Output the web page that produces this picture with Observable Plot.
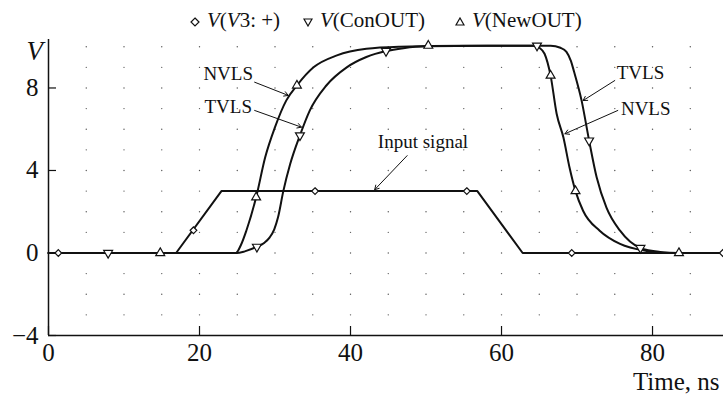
<!DOCTYPE html>
<html><head><meta charset="utf-8">
<script src="https://cdn.jsdelivr.net/npm/d3@7"></script>
<script src="https://cdn.jsdelivr.net/npm/@observablehq/plot@0.6"></script>
<style>
body{margin:0;background:#fff;}
#wrap{position:relative;width:723px;height:405px;font-family:"Liberation Serif","Times New Roman",serif;}
.leg{position:absolute;top:8px;font-size:21px;line-height:24px;color:#111;white-space:nowrap;}
.leg svg{vertical-align:0px;margin-right:7px;}
</style></head><body><div id="wrap"></div>
<script>
// Input signal V(V3:+)
const inputT = [0, 16.9, 22.9, 56.8, 62.8, 89.4];
const inputV = [0, 0, 3, 3, 0, 0];
// V(ConOUT) — TVLS
const conT = [0, 24.9, 26.0, 27.6, 28.6, 29.3, 29.9, 30.4, 31.1, 32.0, 33.3, 34.6, 36.8, 39.5, 42.1, 44.7, 47.0, 50.0, 60.0, 66.5, 67.8, 68.6, 69.2, 69.6, 70.6, 71.6, 72.6, 73.9, 75.7, 78.4, 81.0, 83.5, 89.4];
const conV = [0, 0, 0.08, 0.3, 0.5, 0.76, 1.15, 1.73, 3.0, 4.3, 5.7, 6.9, 8.12, 9.0, 9.5, 9.79, 9.93, 10.02, 10.05, 10.05, 9.95, 9.75, 9.3, 8.8, 7.4, 5.45, 3.67, 2.2, 1.08, 0.24, 0.05, 0, 0];
// V(NewOUT) — NVLS
const newT = [0, 24.8, 25.5, 26.2, 27.5, 28.7, 30.0, 31.5, 32.9, 35.1, 38.2, 42.1, 46.5, 55.0, 64.5, 65.0, 65.7, 66.5, 67.3, 68.2, 69.0, 69.8, 70.8, 73.0, 75.7, 79.2, 82.0, 89.4];
const newV = [0, 0, 0.4, 1.08, 2.7, 4.64, 6.1, 7.4, 8.12, 9.0, 9.58, 9.9, 10.0, 10.05, 10.05, 9.95, 9.66, 8.6, 6.75, 5.6, 4.16, 3.0, 2.05, 1.08, 0.44, 0.1, 0, 0];
// Marker positions
const inMarkT = [1.3, 19.2, 35.3, 55.4, 69.3, 89.3];
const inMarkV = [0, 1.1, 3, 3, 0, 0];
const conMarkT = [7.9, 27.6, 33.3, 44.7, 64.7, 71.6, 78.4];
const conMarkV = [0, 0.3, 5.7, 9.79, 10.05, 5.45, 0.24];
const newMarkT = [14.8, 27.5, 32.9, 50.3, 66.5, 69.8, 83.5];
const newMarkV = [0, 2.7, 8.12, 10.05, 8.6, 3.0, 0];
// Annotations
const noteText = ["NVLS", "TVLS", "Input signal", "TVLS", "NVLS"];
const noteX = [23.8, 23.8, 49.6, 78.4, 79.1];
const noteY = [8.68, 7.08, 5.4, 8.73, 6.99];
const arrowX1 = [27.3, 27.3, 47.5, 75.0, 75.4];
const arrowY1 = [8.28, 6.91, 4.72, 8.36, 6.91];
const arrowX2 = [31.75, 33.5, 43.2, 70.8, 68.4];
const arrowY2 = [7.64, 6.10, 3.07, 7.39, 5.78];
// Ticks
const xTicks = [0, 20, 40, 60, 80];
const yTicks = [-4, 0, 4, 8];
const legendLabels = ["<i>V</i>(<i>V</i>3: +)", "<i>V</i>(ConOUT)", "<i>V</i>(NewOUT)"];

const zip = (t, v) => t.map((x, i) => ({x, y: v[i]}));
const input = zip(inputT, inputV), con = zip(conT, conV), nw = zip(newT, newV);
const notes = noteText.map((t, i) => ({t, x: noteX[i], y: noteY[i]}));
const arrows = arrowX1.map((x1, i) => ({x1, y1: arrowY1[i], x2: arrowX2[i], y2: arrowY2[i]}));
const grid = [];
for (let gx = 5; gx <= 85; gx += 5) for (let gy = -3; gy <= 10; gy += 1) grid.push({x: gx, y: gy});

const font = '"Liberation Serif","Times New Roman",serif';
const chart = Plot.plot({
  width: 723, height: 405,
  marginLeft: 48, marginRight: 0, marginTop: 39, marginBottom: 70,
  style: {fontFamily: font, background: "white", color: "#111"},
  x: {domain: [0, 89.4]},
  y: {domain: [-4, 10.35]},
  marks: [
    Plot.dot(grid, {x: "x", y: "y", r: 0.7, fill: "#555", stroke: null}),
    Plot.ruleX([0], {stroke: "#111", strokeWidth: 1.5}),
    Plot.ruleY([-4], {stroke: "#111", strokeWidth: 1.5}),
    Plot.axisX({ticks: xTicks, tickSize: -9, tickPadding: 17, fontSize: 25, label: null, strokeWidth: 1.2, tickFormat: d => String(d)}),
    Plot.axisY({ticks: yTicks, tickSize: -8, tickPadding: 18, fontSize: 25, label: null, strokeWidth: 1.2, tickFormat: d => d < 0 ? "\u2212" + (-d) : String(d)}),
    Plot.line(input, {x: "x", y: "y", stroke: "#111", strokeWidth: 2}),
    Plot.line(con, {x: "x", y: "y", stroke: "#111", strokeWidth: 2, curve: "monotone-x"}),
    Plot.line(nw, {x: "x", y: "y", stroke: "#111", strokeWidth: 2, curve: "monotone-x"}),
    Plot.dot(zip(inMarkT, inMarkV), {x: "x", y: "y", symbol: "diamond2", r: 3, fill: "white", stroke: "#111", strokeWidth: 1.2}),
    Plot.dot(zip(conMarkT, conMarkV), {x: "x", y: "y", symbol: "triangle", rotate: 180, r: 3.3, fill: "white", stroke: "#111", strokeWidth: 1.2}),
    Plot.dot(zip(newMarkT, newMarkV), {x: "x", y: "y", symbol: "triangle", r: 3.3, fill: "white", stroke: "#111", strokeWidth: 1.2}),
    Plot.arrow(arrows, {x1: "x1", y1: "y1", x2: "x2", y2: "y2", stroke: "#111", strokeWidth: 1, headLength: 7}),
    Plot.text(notes, {x: "x", y: "y", text: "t", fontSize: 19, fill: "#111", lineAnchor: "middle"}),
    Plot.text(["V"], {frameAnchor: "top-left", dx: -22, dy: 12, fontSize: 27, fontStyle: "italic", fill: "#111", lineAnchor: "middle"}),
    Plot.text(["Time, ns"], {frameAnchor: "bottom-right", dx: -4, dy: 46, fontSize: 25, textAnchor: "end", fill: "#111", lineAnchor: "middle"})
  ]
});
const wrap = document.getElementById("wrap");
wrap.appendChild(chart);
const legLeft = [190, 303, 455];
const legSym = [
  '<polygon points="5,1 9,5 5,9 1,5"/>',
  '<polygon points="1,2 9,2 5,9"/>',
  '<polygon points="1,8 9,8 5,1"/>'
];
legendLabels.forEach((lab, i) => {
  const d = document.createElement("div");
  d.className = "leg";
  d.style.left = legLeft[i] + "px";
  d.innerHTML = `<svg width="10" height="10" viewBox="0 0 10 10"><g fill="none" stroke="#111" stroke-width="1.2">${legSym[i]}</g></svg>${lab}`;
  wrap.appendChild(d);
});
</script></body></html>
